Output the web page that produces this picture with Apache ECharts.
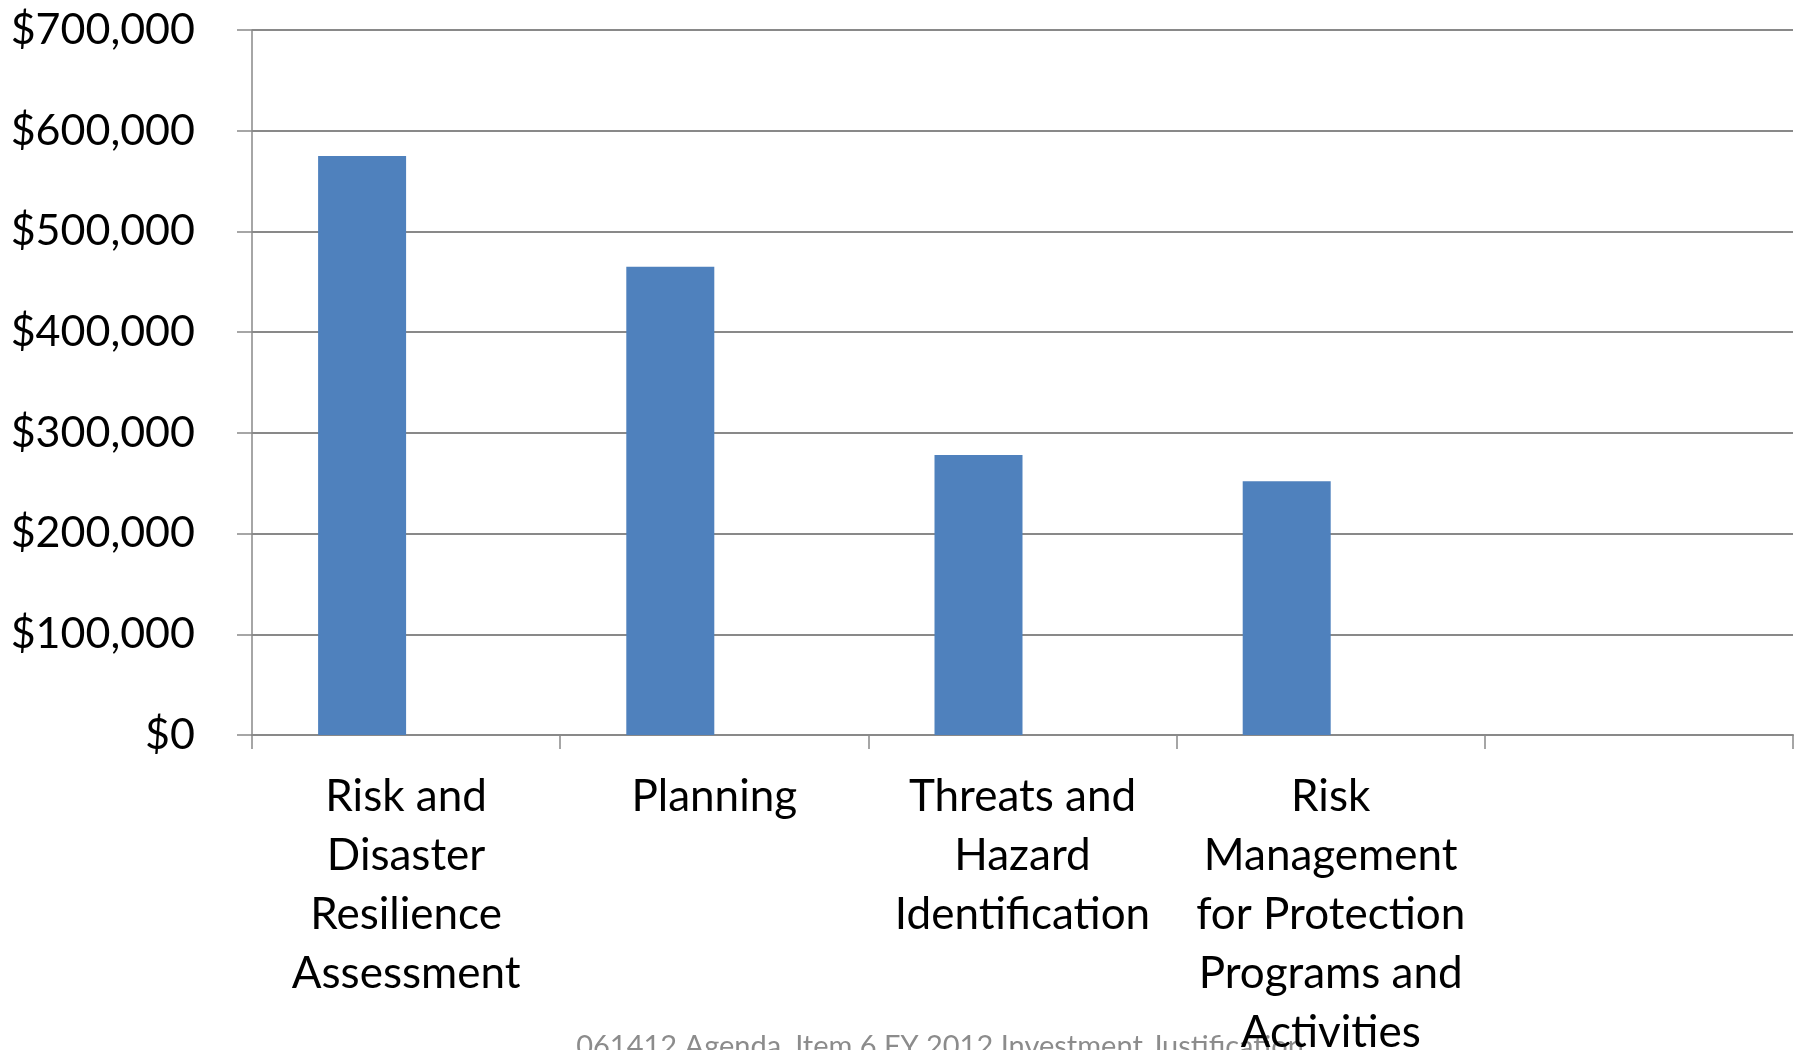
<!DOCTYPE html>
<html>
<head>
<meta charset="utf-8">
<script src="https://cdn.jsdelivr.net/npm/echarts@6/dist/echarts.min.js"></script>
<style>
html,body{margin:0;padding:0;background:#fff;overflow:hidden;}
#chart{width:1802px;height:1050px;}
</style>
</head>
<body>
<div id="chart"></div>
<script>
const categories = [
  "Risk and\nDisaster\nResilience\nAssessment",
  "Planning",
  "Threats and\nHazard\nIdentification",
  "Risk\nManagement\nfor Protection\nPrograms and\nActivities",
  ""
];
const funding = [575000, 465000, 278000, 252000, null];
const emptySeries = [null, null, null, null, null];
const yTicks = { min: 0, max: 700000, interval: 100000 };
const footerText = "061412 Agenda, Item 6 FY 2012 Investment Justification";

const font = "Lato, 'Open Sans', sans-serif";
const gridColor = "#898989";

const chart = echarts.init(document.getElementById('chart'), null, {renderer: 'canvas'});
chart.setOption({
  animation: false,
  backgroundColor: '#ffffff',
  grid: { left: 252, right: 9, top: 30, bottom: 315, containLabel: false, outerBoundsMode: 'none' },
  xAxis: {
    type: 'category',
    data: categories,
    boundaryGap: true,
    axisLine: { show: true, lineStyle: { color: gridColor, width: 2 } },
    axisTick: { show: true, alignWithLabel: false, length: 14, lineStyle: { color: gridColor, width: 1.5 } },
    axisLabel: {
      interval: 0,
      margin: 32,
      color: '#000',
      fontFamily: font,
      fontSize: 44,
      lineHeight: 59,
      align: 'center',
      hideOverlap: false
    }
  },
  yAxis: {
    type: 'value',
    min: yTicks.min,
    max: yTicks.max,
    interval: yTicks.interval,
    axisLine: { show: true, lineStyle: { color: gridColor, width: 1.5 } },
    axisTick: { show: true, length: 15, lineStyle: { color: gridColor, width: 1.5 } },
    splitLine: { show: true, lineStyle: { color: gridColor, width: 2 } },
    axisLabel: {
      margin: 57,
      color: '#000',
      fontFamily: font,
      fontSize: 43,
      formatter: v => '$' + v.toLocaleString('en-US')
    }
  },
  series: [
    {
      type: 'bar',
      data: funding,
      barWidth: 88,
      barGap: '0%',
      itemStyle: { color: '#4F81BD' }
    },
    {
      type: 'bar',
      data: emptySeries,
      barWidth: 88,
      barGap: '0%',
      itemStyle: { color: '#C0504D' }
    }
  ],
  graphic: [
    {
      type: 'text',
      x: 940,
      y: 1032,
      z: 0,
      style: {
        text: footerText,
        fill: '#8c8c8c',
        align: 'center',
        verticalAlign: 'top',
        font: "29px Lato, 'Open Sans', sans-serif"
      }
    }
  ]
});
</script>
</body>
</html>
